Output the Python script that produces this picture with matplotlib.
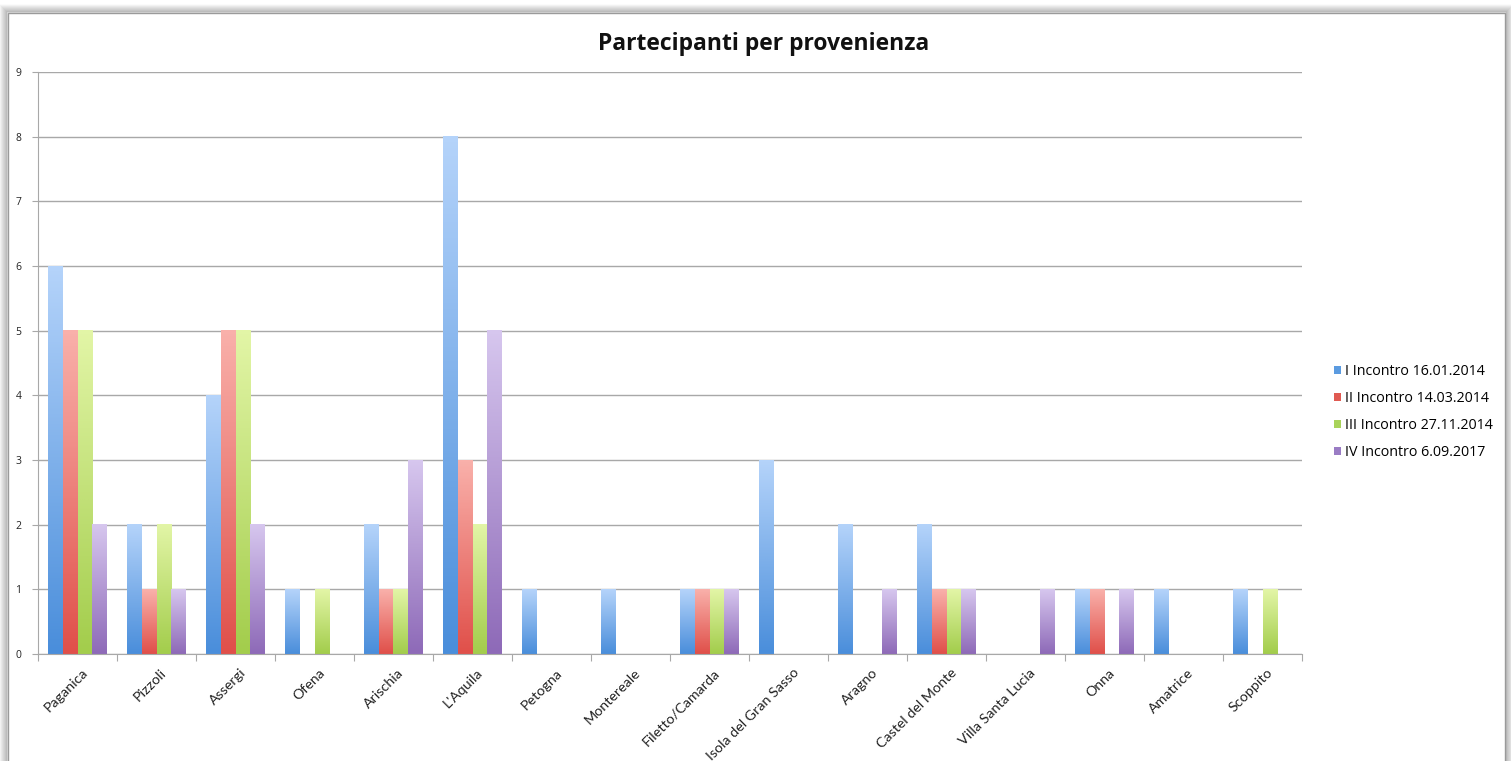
import matplotlib
matplotlib.use("Agg")
import matplotlib.pyplot as plt
import numpy as np
from matplotlib.patches import Rectangle, Patch
from matplotlib.colors import LinearSegmentedColormap

categories = ["Paganica", "Pizzoli", "Assergi", "Ofena", "Arischia", "L'Aquila",
              "Petogna", "Montereale", "Filetto/Camarda", "Isola del Gran Sasso",
              "Aragno", "Castel del Monte", "Villa Santa Lucia", "Onna", "Amatrice",
              "Scoppito"]
series_names = ["I Incontro 16.01.2014", "II Incontro 14.03.2014",
                "III Incontro 27.11.2014", "IV Incontro 6.09.2017"]
s1 = [6, 2, 4, 1, 2, 8, 1, 1, 1, 3, 2, 2, 0, 1, 1, 1]
s2 = [5, 1, 5, 0, 1, 3, 0, 0, 1, 0, 0, 1, 0, 1, 0, 0]
s3 = [5, 2, 5, 1, 1, 2, 0, 0, 1, 0, 0, 1, 0, 0, 0, 1]
s4 = [2, 1, 2, 0, 3, 5, 0, 0, 1, 0, 1, 1, 1, 1, 0, 0]
yticks = list(range(0, 10))
title = "Partecipanti per provenienza"

series = [s1, s2, s3, s4]
grad = [("#b4d3fa", "#4a8edb"), ("#f9b0aa", "#e0504a"),
        ("#e2f5a6", "#a3cd4c"), ("#d6c6ee", "#8e6ab8")]
legend_cols = ["#5b9be0", "#e05a52", "#a9d35a", "#9a7cc4"]

plt.rcParams['font.family'] = ['Open Sans', 'DejaVu Sans']

W, H = 1511, 761
fig = plt.figure(figsize=(W / 100, H / 100), dpi=100)
fig.patch.set_facecolor("white")

# frame with shadow
for i, a in enumerate(np.linspace(0.18, 0.02, 8)):
    fig.patches.append(Rectangle(((8 - i - 1) / W, -0.1), (1497 + 2 * (i + 1)) / W,
                                 (761 - 13 + i + 1) / H + 0.1,
                                 transform=fig.transFigure, facecolor="none",
                                 edgecolor=(0, 0, 0, a), lw=1.2, zorder=-2))
fig.patches.append(Rectangle((8 / W, -0.1), 1497 / W, (761 - 13) / H + 0.1,
                             transform=fig.transFigure, facecolor="white",
                             edgecolor="#9a9a9a", lw=1.0, zorder=-1))

ax = fig.add_axes([38 / W, 1 - 654 / H, (1302 - 38) / W, (654 - 72) / H])
ax.set_facecolor("none")
n = len(categories)
x = np.arange(n)
bw = 0.184
offsets = (np.arange(4) - 1.5) * bw

for k, (vals, (top, bot)) in enumerate(zip(series, grad)):
    bars = ax.bar(x + offsets[k], vals, width=bw, color="none", zorder=2)
    cmap = LinearSegmentedColormap.from_list("g%d" % k, [bot, top])
    g = np.linspace(0, 1, 64).reshape(-1, 1)
    for b in bars:
        h = b.get_height()
        if h <= 0:
            continue
        x0 = b.get_x()
        ax.imshow(g, cmap=cmap, origin="lower", aspect="auto",
                  extent=(x0, x0 + b.get_width(), 0, h), zorder=2,
                  interpolation="bilinear")

ax.set_xlim(-0.5, n - 0.5)
ax.set_ylim(0, 9)
ax.set_yticks(yticks)
ax.set_yticklabels([str(t) for t in yticks], fontsize=7.5, color="#222222")
ax.grid(axis="y", color="#a8a8a8", lw=1.0, zorder=1)
ax.set_axisbelow(True)
for s in ["top", "right"]:
    ax.spines[s].set_visible(False)
ax.spines["left"].set_color("#a8a8a8")
ax.spines["bottom"].set_color("#a8a8a8")
ax.tick_params(axis="y", length=4, color="#a8a8a8", pad=8)
ax.set_xticks(np.arange(n + 1) - 0.5, minor=False)
ax.set_xticklabels([])
ax.tick_params(axis="x", which="major", length=5, color="#a8a8a8")
ax.set_xticks(x + 0.05, minor=True)
ax.set_xticklabels(categories, minor=True, rotation=45, ha="right",
                   rotation_mode="anchor", fontsize=10.3, color="#222222",
                   family=["Lato", "DejaVu Sans"])
ax.tick_params(axis="x", which="minor", length=0, pad=9)

fig.text(764 / W, 1 - 44 / H, title, ha="center", va="center",
         fontsize=16.5, fontweight="bold", color="#111111")

handles = [Patch(facecolor=c, edgecolor="none") for c in legend_cols]
fig.legend(handles, series_names, loc="center left",
           bbox_to_anchor=(1321 / W, 1 - 412 / H), frameon=False,
           fontsize=10.3, handlelength=0.5, handleheight=0.5,
           handletextpad=0.3, labelspacing=0.85)

fig.savefig("out.png", dpi=100)
